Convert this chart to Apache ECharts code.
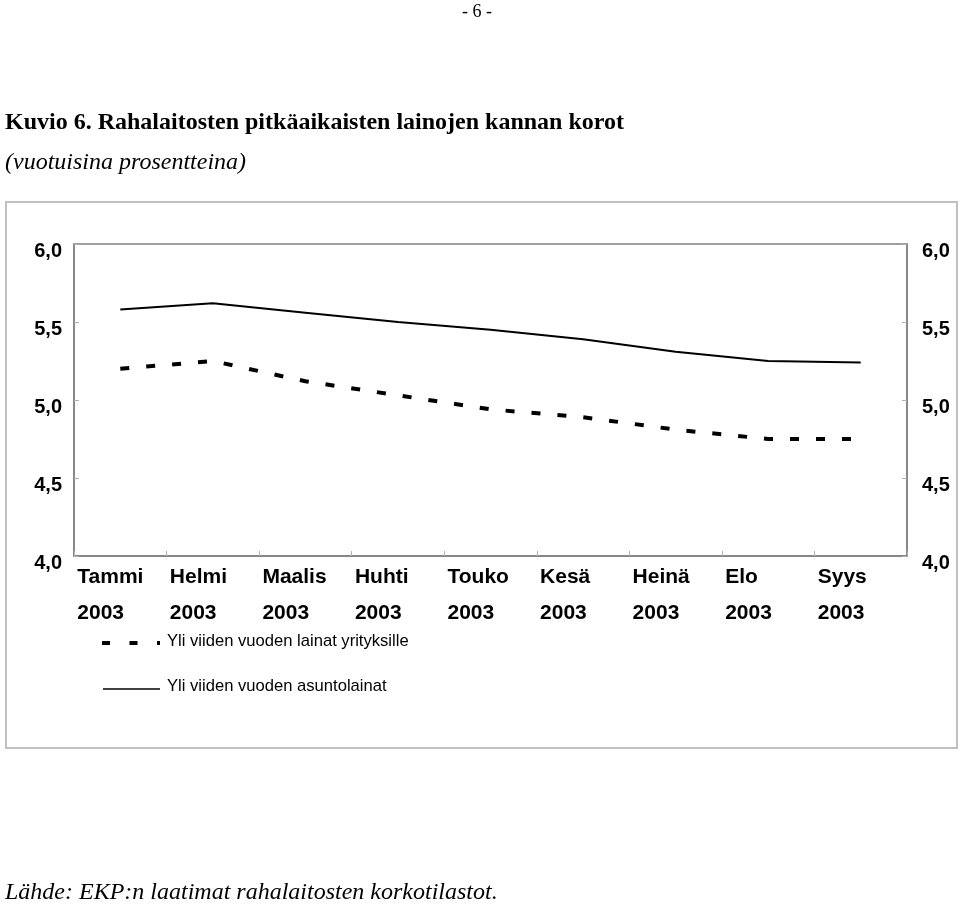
<!DOCTYPE html>
<html>
<head>
<meta charset="utf-8">
<script src="https://cdn.jsdelivr.net/npm/echarts@6/dist/echarts.min.js"></script>
<style>
html,body{margin:0;padding:0;background:#fff;}
#chart{width:960px;height:906px;}
</style>
</head>
<body>
<div id="chart"></div>
<script>
var months = ['Tammi', 'Helmi', 'Maalis', 'Huhti', 'Touko', 'Kesä', 'Heinä', 'Elo', 'Syys'];
var years = ['2003', '2003', '2003', '2003', '2003', '2003', '2003', '2003', '2003'];
var yritysName = 'Yli viiden vuoden lainat yrityksille';
var asuntoName = 'Yli viiden vuoden asuntolainat';
var yritys = [5.20, 5.25, 5.12, 5.03, 4.94, 4.89, 4.81, 4.75, 4.75];
var asunto = [5.58, 5.62, 5.56, 5.50, 5.45, 5.39, 5.31, 5.25, 5.24];
var yMin = 4.0, yMax = 6.0, yStep = 0.5;

var chart = echarts.init(document.getElementById('chart'), null, {renderer: 'canvas'});

function yFmt(v) { return v.toFixed(1).replace('.', ','); }

var yLabelBase = {
  formatter: yFmt, color: '#000', fontFamily: 'Liberation Sans', fontWeight: 'bold',
  fontSize: 20, verticalAlign: 'top', lineHeight: 14
};
var yAxisBase = {
  type: 'value', min: yMin, max: yMax, interval: yStep,
  axisLine: {show: true, lineStyle: {color: '#808080', width: 1.5}},
  axisTick: {show: true, inside: true, length: 5, lineStyle: {color: '#b0b0b0'}},
  splitLine: {show: false}
};

var catTok = {width: 89, padding: [0, 0, 0, 3], align: 'left', lineHeight: 36, fontSize: 21, fontWeight: 'bold', fontFamily: 'Liberation Sans', color: '#000'};

var option = {
  animation: false,
  backgroundColor: '#fff',
  grid: {left: 74, right: 53, top: 244, bottom: 350, show: true, borderColor: '#808080', borderWidth: 1.5},
  xAxis: {
    type: 'category', data: months, boundaryGap: true,
    axisLine: {show: true, lineStyle: {color: '#808080', width: 1.5}},
    axisTick: {show: true, inside: true, length: 5, lineStyle: {color: '#b0b0b0'}},
    axisLabel: {
      interval: 0, margin: 3,
      formatter: function (v, i) { return '{m|' + v + '}\n{y|' + years[i] + '}'; },
      rich: {m: catTok, y: catTok}
    }
  },
  yAxis: [
    Object.assign({}, yAxisBase, {position: 'left', axisLabel: Object.assign({}, yLabelBase, {margin: 12})}),
    Object.assign({}, yAxisBase, {position: 'right', axisLabel: Object.assign({}, yLabelBase, {margin: 15})})
  ],
  legend: {
    orient: 'vertical', left: 97, top: 628, itemGap: 28, itemWidth: 60, itemHeight: 14,
    icon: 'rect', itemStyle: {opacity: 0},
    selectedMode: false,
    data: [yritysName, asuntoName],
    textStyle: {fontFamily: 'Liberation Sans', fontSize: 16.6, color: '#000', lineHeight: 16}
  },
  series: [
    {
      name: yritysName, type: 'line', data: yritys, yAxisIndex: 0,
      showSymbol: false, symbol: 'none',
      lineStyle: {color: '#000', width: 4, type: [9, 17], cap: 'butt'},
      itemStyle: {color: '#000'}
    },
    {
      name: asuntoName, type: 'line', data: asunto, yAxisIndex: 0,
      showSymbol: false, symbol: 'none',
      lineStyle: {color: '#000', width: 2},
      itemStyle: {color: '#000'}
    }
  ],
  graphic: [
    {type: 'rect', shape: {x: 6, y: 202, width: 951, height: 546}, style: {fill: 'none', stroke: '#c0c0c0', lineWidth: 2}, z: -10},
    {type: 'line', shape: {x1: 102, y1: 643, x2: 160, y2: 643}, style: {stroke: '#000', lineWidth: 4, lineDash: [8, 19.5]}},
    {type: 'line', shape: {x1: 103, y1: 689, x2: 160, y2: 689}, style: {stroke: '#000', lineWidth: 1.5}},
    {type: 'text', x: 477, y: 12, style: {text: '- 6 -', font: '18px "Liberation Serif"', fill: '#000', textAlign: 'center', textVerticalAlign: 'middle'}},
    {type: 'text', x: 5, y: 123, style: {text: 'Kuvio 6. Rahalaitosten pitkäaikaisten lainojen kannan korot', font: 'bold 24px "Liberation Serif"', fill: '#000', textVerticalAlign: 'middle'}},
    {type: 'text', x: 5, y: 163, style: {text: '(vuotuisina prosentteina)', font: 'italic 24px "Liberation Serif"', fill: '#000', textVerticalAlign: 'middle'}},
    {type: 'text', x: 5, y: 893, style: {text: 'Lähde: EKP:n laatimat rahalaitosten korkotilastot.', font: 'italic 24px "Liberation Serif"', fill: '#000', textVerticalAlign: 'middle'}}
  ]
};
chart.setOption(option);
</script>
</body>
</html>
